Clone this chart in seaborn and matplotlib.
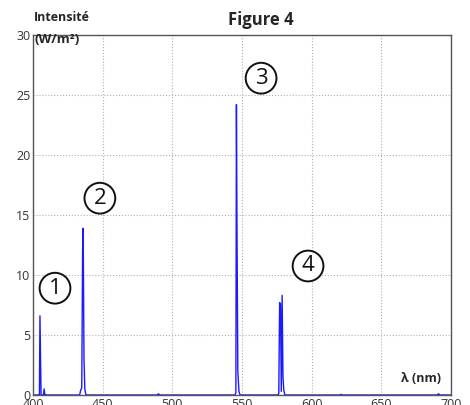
import matplotlib
matplotlib.use("Agg")
import matplotlib.pyplot as plt
import seaborn as sns
import pandas as pd

wavelength = [400, 403, 404, 404.6, 405, 405.8, 406.5, 407.5, 408, 408.5, 409,
              432, 433.5, 434.2, 435, 435.6, 436, 436.6, 437.2, 438,
              489, 490, 491, 544, 545, 545.6, 546, 546.4, 547, 547.8, 548.6,
              574, 575.5, 576.4, 577, 577.6, 578.2, 578.8, 579.4, 580, 580.8, 582,
              620, 621, 622, 690, 691, 692, 700]
intensity = [0, 0, 0, 0, 6.6, 0, 0, 0, 0.5, 0, 0,
             0, 0, 0.4, 0.6, 12.0, 13.9, 3.0, 0.5, 0,
             0, 0.1, 0, 0, 0, 0.2, 24.2, 14.0, 2.0, 0.3, 0,
             0, 0, 0.1, 7.7, 7.6, 0.3, 8.3, 1.5, 0.4, 0, 0,
             0, 0.05, 0, 0, 0.1, 0, 0]

x_ticks = [400, 450, 500, 550, 600, 650, 700]
y_ticks = [0, 5, 10, 15, 20, 25, 30]
annotations = [("1", 415.8, 8.9), ("2", 448.0, 16.4), ("3", 563.7, 26.4), ("4", 597.4, 10.75)]

sns.set_style("white")
plt.rcParams["font.family"] = ["Open Sans", "DejaVu Sans"]

df = pd.DataFrame({"wl": wavelength, "I": intensity})

fig = plt.figure(figsize=(4.7, 4.05), dpi=100)
ax = fig.add_axes([0.0702, 0.0247, 0.8894, 0.8889])
sns.lineplot(data=df, x="wl", y="I", ax=ax, color="#1a1aff", linewidth=1.0,
             estimator=None, sort=False)

ax.set_xlim(400, 700)
ax.set_ylim(0, 30)
ax.set_xticks(x_ticks)
ax.set_yticks(y_ticks)
ax.set_xticklabels([str(t) for t in x_ticks], fontsize=9, color="#333333")
ax.set_yticklabels([str(t) for t in y_ticks], fontsize=9, color="#333333")
ax.tick_params(axis="both", direction="in", length=3, pad=2, color="#555555")
ax.grid(True, linestyle=":", color="#b0b0b0", linewidth=0.8)
for s in ax.spines.values():
    s.set_color("#555555")
    s.set_linewidth(1.0)
ax.set_xlabel("")
ax.set_ylabel("")

fig.text(0.5543, 0.950, "Figure 4", ha="center", va="center", fontsize=12, fontweight="bold")
fig.text(0.072, 0.958, "Intensité", ha="left", va="center", fontsize=9, fontweight="bold")
fig.text(0.074, 0.903, "(W/m²)", ha="left", va="center", fontsize=9.5, fontweight="bold")
ax.text(0.975, 0.045, "λ (nm)", transform=ax.transAxes, ha="right", va="center",
        fontsize=9, fontweight="bold")

for lab, xv, yv in annotations:
    ax.text(xv, yv, lab, ha="center", va="center", fontsize=16, color="#111111",
            bbox=dict(boxstyle="circle,pad=0.22", fc="white", ec="#111111", lw=1.4))

fig.savefig("out.png", dpi=100)
